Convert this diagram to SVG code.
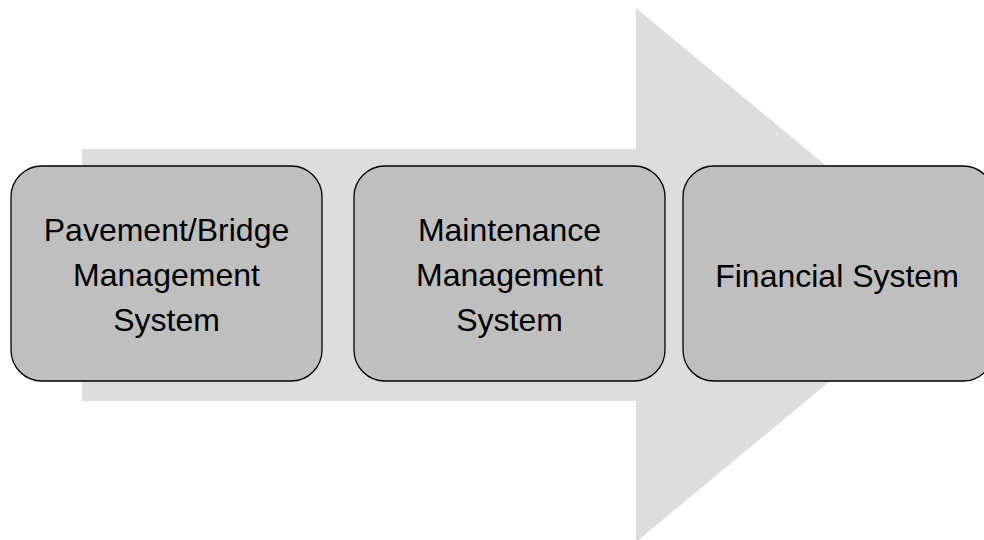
<svg xmlns="http://www.w3.org/2000/svg" width="984" height="540" viewBox="0 0 984 540">
  <style>
    .box { fill: #bfbfbf; stroke: #000; stroke-width: 1.3; }
    .label { font-family: "Liberation Sans", Arial, sans-serif; font-size: 32px; fill: #000; text-anchor: middle; }
  </style>
  <rect width="984" height="540" fill="#fff"/>
  <!-- Background process arrow -->
  <g id="flow-arrow">
    <polygon points="82,149 636,149 636,8 958,275 636,542 636,401 82,401" fill="#dddddd"/>
  </g>
  <g id="connectors"></g>
  <g id="node-pbms">
    <rect class="box" x="11" y="166" width="311" height="215" rx="31" ry="31"/>
    <text class="label" x="166.5" y="241">Pavement/Bridge</text>
    <text class="label" x="166.5" y="286">Management</text>
    <text class="label" x="166.5" y="331">System</text>
  </g>
  <g id="node-mms">
    <rect class="box" x="354" y="166" width="311" height="215" rx="31" ry="31"/>
    <text class="label" x="509.5" y="241">Maintenance</text>
    <text class="label" x="509.5" y="286">Management</text>
    <text class="label" x="509.5" y="331">System</text>
  </g>
  <g id="node-fs">
    <rect class="box" x="683" y="166" width="311" height="215" rx="31" ry="31"/>
    <text class="label" x="837" y="287">Financial System</text>
  </g>
</svg>
